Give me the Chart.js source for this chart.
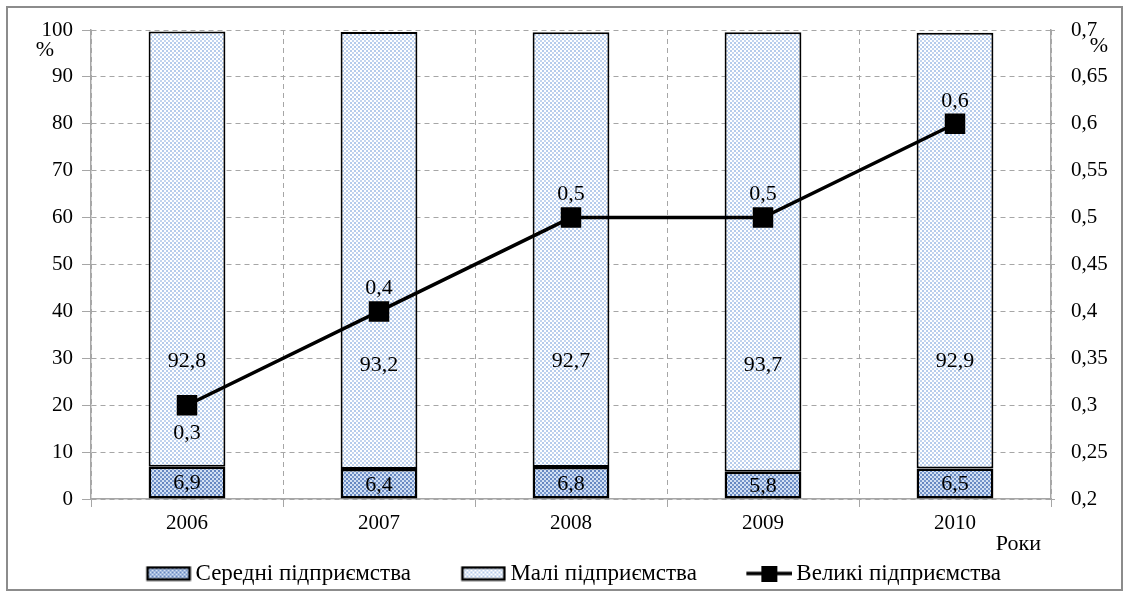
<!DOCTYPE html>
<html>
<head>
<meta charset="utf-8">
<script src="https://cdn.jsdelivr.net/npm/chart.js@4.4.0/dist/chart.umd.min.js"></script>
<style>
  body { margin: 0; background: #fff; }
</style>
</head>
<body>
<canvas id="chart" width="1130" height="601"></canvas>
<script>
const years = ["2006", "2007", "2008", "2009", "2010"];
const medium = [6.9, 6.4, 6.8, 5.8, 6.5];
const small = [92.8, 93.2, 92.7, 93.7, 92.9];
const large = [0.3, 0.4, 0.5, 0.5, 0.6];

const FONT = "'Liberation Serif', 'Times New Roman', serif";

// dotted fill patterns like the office chart
function makePattern(bg, dot1, dot2) {
  const c = document.createElement("canvas");
  c.width = 4;
  c.height = 4;
  const g = c.getContext("2d");
  g.fillStyle = bg;
  g.fillRect(0, 0, 4, 4);
  g.fillStyle = dot1;
  g.fillRect(0, 0, 2, 2);
  g.fillStyle = dot2;
  g.fillRect(2, 2, 2, 2);
  return g.createPattern(c, "repeat");
}

const ctx = document.getElementById("chart").getContext("2d");
const mediumFill = makePattern("#d3e0f3", "#7898cc", "#6586c0");
const smallFill = makePattern("#ffffff", "#c3d5ef", "#b5cbeb");

// legend icons: blank lead on the left spreads the items,
// the icon itself runs into chart.js' gap before the text
const LEAD = 47;
const ICON_W = 46;
const LEGEND_SIZE = 23;
const STYLE_W = LEAD + ICON_W - 15;
function legendIcon(kind) {
  const c = document.createElement("canvas");
  c.width = LEAD + ICON_W;
  c.height = 16;
  const g = c.getContext("2d");
  g.translate(LEAD, 0);
  if (kind === "line") {
    g.strokeStyle = "#000";
    g.lineWidth = 3.5;
    g.beginPath();
    g.moveTo(0, 8);
    g.lineTo(ICON_W, 8);
    g.stroke();
    g.fillStyle = "#000";
    g.fillRect(15, 0, 16, 16);
  } else {
    g.fillStyle = kind === "medium" ? mediumFill : smallFill;
    g.fillRect(2, 2, ICON_W - 4, 12);
    g.strokeStyle = "#000";
    g.lineWidth = 2.5;
    g.strokeRect(2, 2, ICON_W - 4, 12);
  }
  return c;
}

const fmt = (v) => String(Math.round(v * 100) / 100).replace(".", ",");

const extras = {
  id: "extras",
  beforeDraw(chart) {
    const c = chart.ctx;
    c.save();
    c.fillStyle = "#fff";
    c.fillRect(0, 0, chart.width, chart.height);
    c.strokeStyle = "#8c8c8c";
    c.lineWidth = 2;
    c.strokeRect(7, 7, 1115, 583);
    c.restore();
  },
  afterDatasetsDraw(chart) {
    const c = chart.ctx;
    const y = chart.scales.y;
    c.save();
    c.fillStyle = "#000";
    c.font = "22px " + FONT;
    c.textAlign = "center";
    c.textBaseline = "middle";
    chart.getDatasetMeta(0).data.forEach((bar, i) => {
      c.fillText(fmt(medium[i]), bar.x, (bar.y + bar.base) / 2 + 1);
    });
    chart.getDatasetMeta(1).data.forEach((bar, i) => {
      const off = i % 2 === 1 ? 4 : 0;
      c.fillText(fmt(small[i]), bar.x, y.getPixelForValue(29.3) + off);
    });
    chart.getDatasetMeta(2).data.forEach((pt, i) => {
      const dy = i === 0 ? 28 : -23;
      c.fillText(fmt(large[i]), pt.x, pt.y + dy);
    });
    c.fillText("%", 45, 50);
    c.fillText("%", 1099, 46);
    c.textAlign = "right";
    c.fillText("Роки", 1041, 544);
    c.restore();
  },
};

new Chart(ctx, {
  type: "bar",
  data: {
    labels: years,
    datasets: [
      {
        label: "Середні підприємства",
        data: medium,
        backgroundColor: mediumFill,
        borderColor: "#000",
        borderWidth: 2.5,
        borderSkipped: false,
        stack: "s",
        yAxisID: "y",
        order: 2,
      },
      {
        label: "Малі підприємства",
        data: small,
        backgroundColor: smallFill,
        borderColor: "#000",
        borderWidth: 2,
        borderSkipped: false,
        stack: "s",
        yAxisID: "y",
        order: 2,
      },
      {
        type: "line",
        label: "Великі підприємства",
        data: large,
        borderColor: "#000",
        backgroundColor: "#000",
        borderWidth: 3.5,
        pointStyle: "rect",
        pointRadius: 12,
        pointHoverRadius: 12,
        yAxisID: "y1",
        order: 1,
      },
    ],
  },
  options: {
    responsive: false,
    animation: false,
    layout: { padding: { top: 30, bottom: 6, left: 0, right: 0 } },
    datasets: {
      bar: { barPercentage: 0.4, categoryPercentage: 1 },
    },
    plugins: {
      tooltip: { enabled: false },
      legend: {
        display: true,
        position: "bottom",
        labels: {
          color: "#000",
          font: { family: FONT, size: LEGEND_SIZE },
          usePointStyle: true,
          pointStyleWidth: STYLE_W,
          boxHeight: 16,
          padding: 10,
          // trailing blanks nudge the centred row a little to the left
          generateLabels: () => [
            { text: "Середні підприємства", pointStyle: legendIcon("medium"), datasetIndex: 0, lineWidth: 0 },
            { text: "Малі підприємства", pointStyle: legendIcon("small"), datasetIndex: 1, lineWidth: 0 },
            { text: "Великі підприємства\u00a0\u00a0\u00a0\u00a0", pointStyle: legendIcon("line"), datasetIndex: 2, lineWidth: 0 },
          ],
        },
      },
    },
    scales: {
      x: {
        stacked: true,
        offset: true,
        afterFit: (s) => { s.height = 53; },
        grid: {
          offset: true,
          color: "#a6a6a6",
          tickLength: 8,
          tickColor: "#a6a6a6",
        },
        border: { color: "#a6a6a6", width: 1.5, dash: [5, 4] },
        ticks: { color: "#000", font: { family: FONT, size: 21 }, padding: 4 },
      },
      y: {
        stacked: true,
        position: "left",
        min: 0,
        max: 100,
        afterFit: (s) => { s.width = 91; },
        ticks: {
          stepSize: 10,
          color: "#000",
          font: { family: FONT, size: 21 },
          padding: 9,
          callback: (v) => fmt(v),
        },
        grid: {
          color: "#a6a6a6",
          tickLength: 9,
          tickColor: "#a6a6a6",
        },
        border: { color: "#a6a6a6", width: 1.5, dash: [5, 4] },
      },
      y1: {
        position: "right",
        min: 0.2,
        max: 0.7,
        afterFit: (s) => { s.width = 79; },
        ticks: {
          stepSize: 0.05,
          color: "#000",
          font: { family: FONT, size: 21 },
          padding: 16,
          callback: (v) => fmt(v),
        },
        grid: { drawOnChartArea: false, tickLength: 4, color: "#a6a6a6" },
        border: { color: "#a6a6a6", width: 1.5 },
      },
    },
  },
  plugins: [extras],
});
</script>
</body>
</html>
